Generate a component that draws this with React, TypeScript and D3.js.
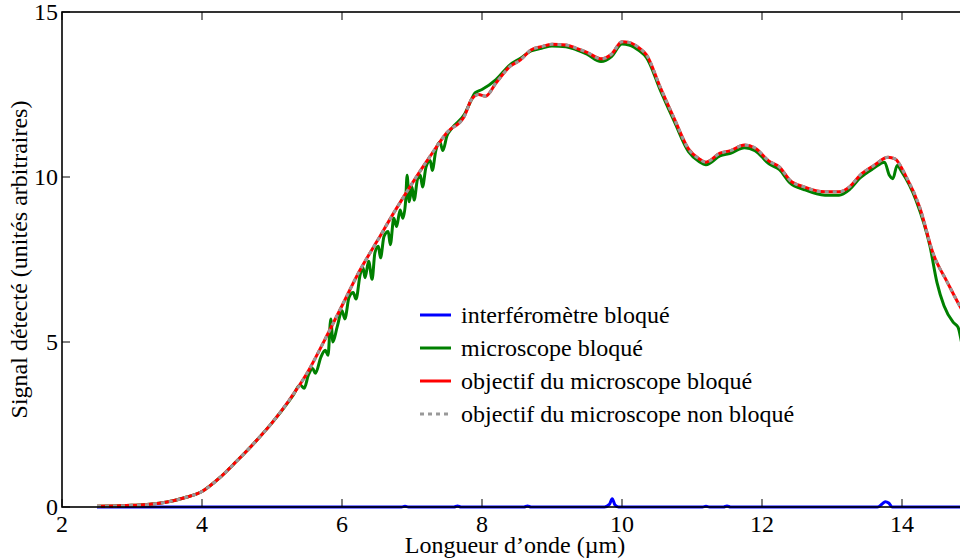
import React, { useEffect, useRef } from 'react';
import * as d3 from 'd3';

// longueur d'onde (µm) et signal
const lambdaObjectif = [
  2.5, 2.75, 3, 3.25, 3.5, 3.75, 4, 4.25, 4.5, 4.75, 5, 5.25, 5.5, 5.75, 6, 6.25, 6.5, 6.75, 7, 7.25,
  7.5, 7.75, 7.85, 7.95, 8.05, 8.2, 8.4, 8.55, 8.7, 8.85, 9, 9.2, 9.35, 9.5, 9.7, 9.85, 10, 10.1,
  10.25, 10.35, 10.55, 10.75, 10.95, 11.1, 11.2, 11.4, 11.55, 11.75, 11.9, 12.1, 12.25, 12.4, 12.6,
  12.9, 13.1, 13.25, 13.4, 13.6, 13.8, 13.9, 14.05, 14.25, 14.45, 14.65, 14.85, 15,
];
const signalObjectif = [
  0.02, 0.03, 0.05, 0.08, 0.15, 0.28, 0.47, 0.88, 1.4, 1.95, 2.55, 3.25, 4.05, 5.05, 6.1, 7.15, 8.05,
  8.95, 9.8, 10.6, 11.35, 11.85, 12.35, 12.5, 12.45, 12.85, 13.35, 13.55, 13.85, 13.95, 14.02, 14.0,
  13.9, 13.78, 13.58, 13.72, 14.1, 14.08, 13.9, 13.7, 12.7, 11.75, 10.85, 10.55, 10.45, 10.72, 10.8,
  10.97, 10.88, 10.48, 10.3, 9.9, 9.7, 9.55, 9.55, 9.7, 10.05, 10.35, 10.6, 10.55, 10.05, 9.1, 7.65,
  6.8, 6.0, 5.5,
];

const lambdaMicroscope = [
  2.5, 2.75, 3, 3.25, 3.5, 3.75, 4, 4.25, 4.5, 4.75, 5, 5.3, 5.4, 5.46, 5.52, 5.58, 5.62, 5.7, 5.76,
  5.8, 5.84, 5.87, 5.93, 6, 6.04, 6.1, 6.16, 6.2, 6.26, 6.3, 6.33, 6.38, 6.43, 6.47, 6.52, 6.55, 6.6,
  6.66, 6.69, 6.74, 6.78, 6.83, 6.87, 6.91, 6.93, 6.96, 7, 7.03, 7.08, 7.12, 7.15, 7.2, 7.26, 7.29,
  7.34, 7.4, 7.44, 7.5, 7.56, 7.6, 7.75, 7.85, 7.9, 8, 8.2, 8.4, 8.55, 8.7, 8.85, 9, 9.2, 9.35, 9.5,
  9.7, 9.85, 10, 10.1, 10.25, 10.35, 10.55, 10.75, 10.95, 11.1, 11.2, 11.4, 11.55, 11.75, 11.9,
  12.1, 12.25, 12.4, 12.6, 12.9, 13.1, 13.25, 13.4, 13.6, 13.75, 13.82, 13.87, 13.93, 14, 14.2, 14.4,
  14.5, 14.6, 14.73, 14.8, 14.85, 14.9,
];
const signalMicroscope = [
  0.02, 0.03, 0.05, 0.08, 0.15, 0.28, 0.47, 0.88, 1.4, 1.95, 2.55, 3.38, 3.7, 3.6, 4.0, 4.2, 4.05,
  4.55, 4.75, 4.6, 5.7, 5.0, 5.45, 5.95, 5.7, 6.35, 6.5, 6.3, 7.05, 7.25, 6.95, 7.45, 6.9, 7.7, 7.9,
  7.55, 8.2, 8.35, 7.95, 8.75, 8.5, 9.0, 8.75, 9.3, 10.05, 9.25, 9.7, 9.3, 9.95, 10.05, 9.7, 10.3,
  10.5, 10.2, 10.8, 11.05, 10.8, 11.25, 11.45, 11.55, 11.9, 12.35, 12.55, 12.65, 12.95, 13.4, 13.6,
  13.82, 13.9, 13.97, 13.95, 13.85, 13.72, 13.5, 13.65, 14.03, 14.0, 13.82, 13.62, 12.62, 11.67,
  10.77, 10.47, 10.37, 10.64, 10.72, 10.89, 10.8, 10.4, 10.22, 9.82, 9.62, 9.45, 9.45, 9.62, 9.97,
  10.27, 10.45, 10.05, 9.95, 10.35, 10.15, 9.3, 7.9, 6.8, 6.1, 5.6, 5.45, 5.0, 4.5,
];

const lambdaInterfero = [
  2.5, 4, 6.85, 6.9, 6.95, 7.6, 7.65, 7.7, 8.6, 8.65, 8.7, 9.75, 9.82, 9.86, 9.9, 9.95, 11.15, 11.2,
  11.25, 11.45, 11.5, 11.55, 13.65, 13.72, 13.76, 13.81, 13.86, 15,
];
const signalInterfero = [
  0, 0, 0, 0.02, 0, 0, 0.03, 0, 0, 0.03, 0, 0, 0.08, 0.25, 0.06, 0, 0, 0.02, 0, 0, 0.03, 0, 0, 0.1,
  0.16, 0.12, 0, 0,
];

const xTicks = [2, 4, 6, 8, 10, 12, 14];
const yTicks = [0, 5, 10, 15];

const seriesNames = [
  'interféromètre bloqué',
  'microscope bloqué',
  'objectif du microscope bloqué',
  'objectif du microscope non bloqué',
];

const App = () => {
  const svgRef = useRef(null);

  useEffect(() => {
    const svgEl = d3.select(svgRef.current);
    svgEl.selectAll('*').remove();

    const margin = { top: 12, left: 62 };
    const width = 910;
    const height = 495;
    const font = '"Liberation Serif", "Times New Roman", serif';

    const svg = svgEl
      .append('g')
      .attr('transform', `translate(${margin.left},${margin.top})`);

    const xScale = d3.scaleLinear().domain([2, 15]).range([0, width]);
    const yScale = d3.scaleLinear().domain([0, 15]).range([height, 0]);

    const line = d3
      .line()
      .x((d) => xScale(d[0]))
      .y((d) => yScale(d[1]))
      .curve(d3.curveMonotoneX);

    const interfero = lambdaInterfero.map((l, i) => [l, signalInterfero[i]]);
    const micro = lambdaMicroscope.map((l, i) => [l, signalMicroscope[i]]);
    const objectif = lambdaObjectif.map((l, i) => [l, signalObjectif[i]]);

    // courbes
    const styles = [
      { data: interfero, color: '#0000ff', dash: null },
      { data: micro, color: '#008000', dash: null },
      { data: objectif, color: '#ff0000', dash: null },
      { data: objectif, color: '#999999', dash: '4,4' },
    ];

    styles.forEach((s) => {
      svg
        .append('path')
        .datum(s.data)
        .attr('fill', 'none')
        .attr('stroke', s.color)
        .attr('stroke-width', 3)
        .attr('stroke-linejoin', 'round')
        .attr('stroke-dasharray', s.dash)
        .attr('d', line);
    });

    // cadre
    svg
      .append('rect')
      .attr('width', width)
      .attr('height', height)
      .attr('fill', 'none')
      .attr('stroke', '#000')
      .attr('stroke-width', 1.6);

    // graduations vers l'intérieur
    xTicks.forEach((t) => {
      svg.append('line').attr('x1', xScale(t)).attr('x2', xScale(t))
        .attr('y1', height).attr('y2', height - 8).attr('stroke', '#000');
      svg.append('line').attr('x1', xScale(t)).attr('x2', xScale(t))
        .attr('y1', 0).attr('y2', 8).attr('stroke', '#000');
      svg.append('text')
        .attr('x', xScale(t))
        .attr('y', height + 25)
        .attr('text-anchor', 'middle')
        .attr('font-family', font)
        .attr('font-size', 24)
        .text(t);
    });

    yTicks.forEach((t) => {
      svg.append('line').attr('x1', 0).attr('x2', 8)
        .attr('y1', yScale(t)).attr('y2', yScale(t)).attr('stroke', '#000');
      svg.append('line').attr('x1', width).attr('x2', width - 8)
        .attr('y1', yScale(t)).attr('y2', yScale(t)).attr('stroke', '#000');
      svg.append('text')
        .attr('x', -4)
        .attr('y', yScale(t))
        .attr('dy', '0.34em')
        .attr('text-anchor', 'end')
        .attr('font-family', font)
        .attr('font-size', 24)
        .text(t);
    });

    // titres des axes
    svg.append('text')
      .attr('x', 453)
      .attr('y', height + 46)
      .attr('text-anchor', 'middle')
      .attr('font-family', font)
      .attr('font-size', 24)
      .text('Longueur d\u2019onde (\u00b5m)');

    svg.append('text')
      .attr('transform', `translate(${-35},${height / 2}) rotate(-90)`)
      .attr('text-anchor', 'middle')
      .attr('font-family', font)
      .attr('font-size', 24)
      .text('Signal détecté (unités arbitraires)');

    // légende
    const legend = svg.append('g').attr('transform', 'translate(358,303)');
    seriesNames.forEach((name, i) => {
      const s = styles[i];
      const y = i * 33;
      legend.append('line')
        .attr('x1', 0).attr('x2', 31)
        .attr('y1', y).attr('y2', y)
        .attr('stroke', s.color)
        .attr('stroke-width', 3)
        .attr('stroke-dasharray', s.dash);
      legend.append('text')
        .attr('x', 41)
        .attr('y', y)
        .attr('dy', '0.33em')
        .attr('font-family', font)
        .attr('font-size', 24)
        .text(name);
    });
  }, []);

  return (
    <svg
      ref={svgRef}
      width={960}
      height={560}
      style={{ position: 'absolute', left: 0, top: 0, background: '#fff' }}
    ></svg>
  );
};

export default App;
